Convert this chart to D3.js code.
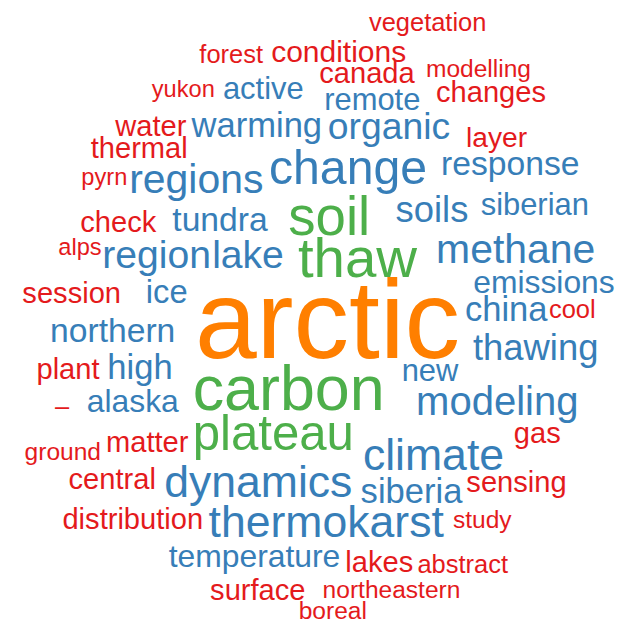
<!DOCTYPE html>
<html>
<head>
<meta charset="utf-8">
<script src="https://cdn.jsdelivr.net/npm/d3@7"></script>
<style>
  html, body { margin: 0; padding: 0; background: #ffffff; }
  svg { display: block; }
</style>
</head>
<body>
<div id="chart"></div>
<script>
// ---- data: words and their (relative) frequencies ----
const words = [
  "arctic","carbon","thaw","soil","plateau","change","thermokarst","climate","dynamics",
  "methane","modeling","regions","region","lake","organic","thawing","soils","siberia",
  "china","warming","high","response","tundra","northern","ice","alaska","emissions",
  "temperature","active","remote","siberian","new","conditions","session","plant",
  "sensing","thermal","distribution","check","water","canada","changes","central",
  "matter","gas","lakes","surface","layer","forest","–","cool","abstract","vegetation",
  "modelling","boreal","study","northeastern","ground","pyrn","yukon","alps"
];
const freqs = [
  100, 47, 40, 38, 32, 31, 27, 27, 27,
  23, 22, 23, 21, 21, 19, 18, 18, 16,
  16, 16, 16, 15, 15, 15, 14, 13, 13,
  13, 12, 12, 12, 12, 11, 10, 10,
  10, 10, 10, 10, 10, 10, 10, 10,
  10, 10, 10, 10, 9, 6, 6, 6, 6, 6,
  5, 5, 5, 5, 5, 4, 4, 4
];
// frequency tiers for colouring
const tierBreaks = [12, 32, 60];
const tierColors = ["#e41a1c", "#377eb8", "#4daf4a", "#ff7f00"];

// ---- layout: placement of each word (centre x, baseline y) in the cloud ----
const layout = [
  [327.5,358],[288.7,410],[357.5,276.7],[329.2,235],[273.3,449.5],[348,184],[326.2,536.7],[433.5,470],[258.3,496.7],
  [515.7,263.3],[497.3,415],[196.3,193],[156.7,268.3],[248,268.3],[389,139.3],[535.7,360],[432,222],[411.5,503.3],
  [506.2,320.7],[256.8,136.7],[140,379.3],[510.3,175],[220,230.7],[112.7,341.7],[166.7,302.7],[132.8,411.7],[544,293.3],
  [254.5,566.7],[263.3,99.3],[372.3,110],[534.8,215],[430,380.7],[338.7,61.7],[71.7,302.7],[68,379.3],
  [516.5,491.7],[139.2,158.3],[132.8,529.3],[118.3,231.7],[150.8,136],[367,83.3],[491,101.7],[112.2,489.3],
  [147.2,451.7],[537.3,443.3],[379.3,571.7],[257.8,600],[496.5,146.7],[231.2,63.3],[62.2,415],[572.3,318.3],[462.7,573.3],[427.7,30.7],
  [478.5,77.3],[332.8,619],[482.3,528.3],[391.5,598.3],[62.8,460],[104.3,185],[183.3,96.7],[80,255]
];

const width = 618, height = 623;

const svg = d3.select("#chart").append("svg")
  .attr("width", width).attr("height", height)
  .attr("viewBox", [0, 0, width, height]);

svg.append("rect").attr("width", width).attr("height", height).attr("fill", "#ffffff");

const x = d3.scaleLinear().domain([0, 618]).range([0, width]);
const y = d3.scaleLinear().domain([0, 623]).range([0, height]);
const size = d3.scaleLinear().domain([0, 100]).range([20, 111]);
const color = d3.scaleThreshold().domain(tierBreaks).range(tierColors);

const data = words.map((w, i) => ({ text: w, freq: freqs[i], pos: layout[i] }));

svg.append("g")
  .selectAll("text")
  .data(data)
  .join("text")
  .attr("x", d => x(d.pos[0]))
  .attr("y", d => y(d.pos[1]))
  .attr("text-anchor", "middle")
  .attr("font-family", "'Liberation Sans', Arial, Helvetica, sans-serif")
  .attr("font-size", d => size(d.freq))
  .attr("fill", d => color(d.freq))
  .text(d => d.text);
</script>
</body>
</html>
